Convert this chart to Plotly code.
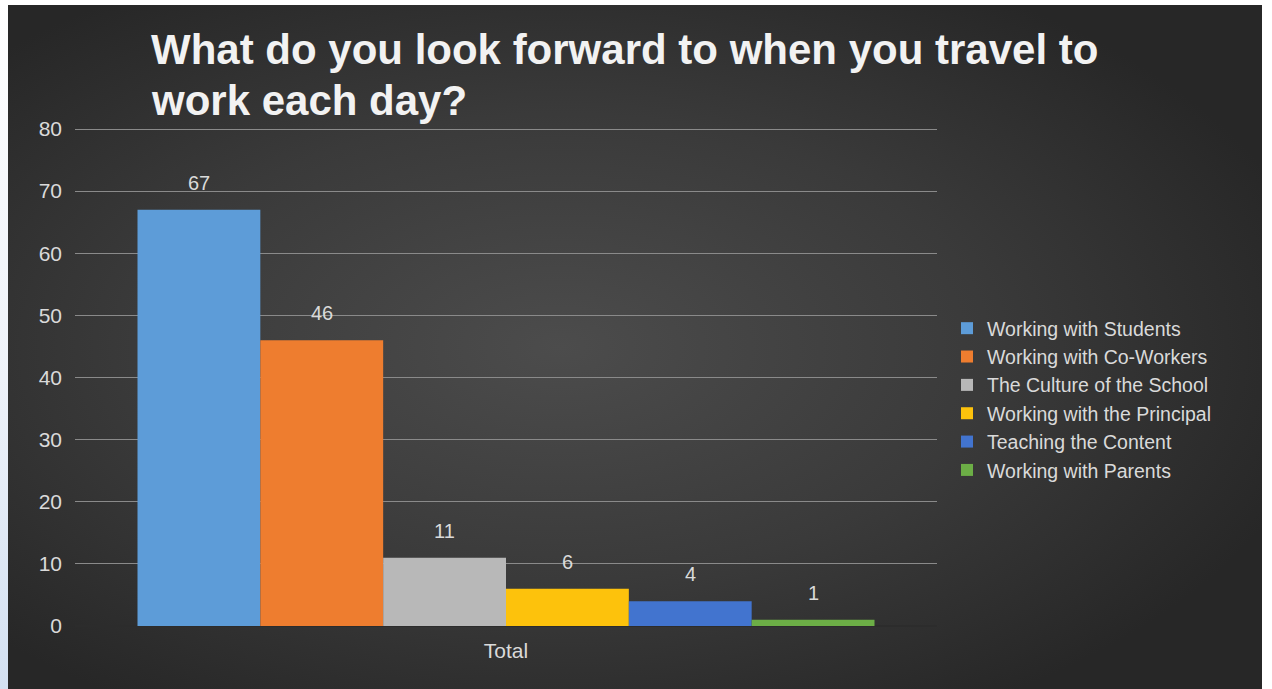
import base64
import plotly.graph_objects as go

# Survey responses
category = ["Total"]
answers = [
    "Working with Students",
    "Working with Co-Workers",
    "The Culture of the School",
    "Working with the Principal",
    "Teaching the Content",
    "Working with Parents",
]
counts = [67, 46, 11, 6, 4, 1]
bar_colors = ["#5d9cd8", "#ee7d2f", "#b8b8b8", "#fdc20c", "#4274cf", "#6cae46"]
y_ticks = [0, 10, 20, 30, 40, 50, 60, 70, 80]

title_lines = ["What do you look forward to when you travel to", "work each day?"]

W, H = 1272, 689
ML, MR, MT, MB = 75, 335, 127, 63
PW, PH = W - ML - MR, H - MT - MB
PX_PER_UNIT = 497 / 80          # vertical scale of the value axis
Y_TOP = PH / PX_PER_UNIT        # a little headroom so the 80 gridline is drawn
BARGAP = 0.145

FONT = "Arial, Liberation Sans, Helvetica, sans-serif"
TXT = "#dadada"

# Slide-style backdrop: dark radial gradient panel with a light frame strip
svg = f"""<svg xmlns='http://www.w3.org/2000/svg' width='{W}' height='{H}' viewBox='0 0 {W} {H}' preserveAspectRatio='none'>
<defs>
<radialGradient id='g' cx='0.44' cy='0.5' r='0.62'>
<stop offset='0' stop-color='#4c4c4c'/>
<stop offset='0.55' stop-color='#3a3a3a'/>
<stop offset='1' stop-color='#272727'/>
</radialGradient>
<linearGradient id='s' x1='0' y1='0' x2='0' y2='1'>
<stop offset='0' stop-color='#ffffff'/>
<stop offset='0.55' stop-color='#eef2f9'/>
<stop offset='1' stop-color='#d3e0f1'/>
</linearGradient>
</defs>
<rect width='{W}' height='{H}' fill='#ffffff'/>
<rect x='0' y='0' width='8' height='{H}' fill='url(#s)'/>
<rect x='8' y='5' width='1254' height='{H - 5}' fill='url(#g)'/>
</svg>"""
bg_uri = "data:image/svg+xml;base64," + base64.b64encode(svg.encode()).decode()

fig = go.Figure()
for name, val, col in zip(answers, counts, bar_colors):
    fig.add_trace(go.Bar(
        x=category, y=[val], name=name,
        marker=dict(color=col, line=dict(width=0)),
        hoverinfo="name+y",
    ))

# value labels above each bar of the group
n = len(counts)
group_w = 1 - BARGAP
annotations = []
for i, val in enumerate(counts):
    xc = -group_w / 2 + (i + 0.5) * group_w / n
    annotations.append(dict(
        x=xc, y=val, xref="x", yref="y", text=str(val), showarrow=False,
        yanchor="middle", yshift=27,
        font=dict(family=FONT, size=20, color=TXT),
    ))

# two-line title
for line, py in zip(title_lines, [50, 101]):
    annotations.append(dict(
        x=(149 - ML) / PW, y=(H - MB - py) / PH, xref="paper", yref="paper",
        text=f"<b>{line}</b>", showarrow=False, xanchor="left", yanchor="middle",
        font=dict(family=FONT, size=42, color="#f2f2f2"),
    ))

fig.update_layout(
    width=W, height=H, autosize=False,
    margin=dict(l=ML, r=MR, t=MT, b=MB),
    paper_bgcolor="#333333",
    plot_bgcolor="rgba(0,0,0,0)",
    barmode="group", bargap=BARGAP, bargroupgap=0,
    showlegend=True,
    legend=dict(
        x=1 + (947 - (W - MR)) / PW, y=(H - MB - 309) / PH,
        xanchor="left", yanchor="top",
        bgcolor="rgba(0,0,0,0)", borderwidth=0,
        font=dict(family=FONT, size=19.5, color=TXT),
        itemwidth=30, traceorder="normal",
    ),
    annotations=annotations,
    images=[dict(
        source=bg_uri, xref="paper", yref="paper",
        x=-ML / PW, y=1 + MT / PH, sizex=W / PW, sizey=H / PH,
        xanchor="left", yanchor="top", sizing="stretch", layer="below",
    )],
    xaxis=dict(
        showgrid=False, showline=False, zeroline=False, ticks="",
        tickfont=dict(family=FONT, size=21, color=TXT),
        ticklabelstandoff=10,
    ),
    yaxis=dict(
        range=[0, Y_TOP], tickvals=y_ticks,
        showgrid=True, gridcolor="#8a8a8a", gridwidth=1,
        zeroline=True, zerolinecolor="#2c2c2c", zerolinewidth=2,
        showline=False, ticks="",
        tickfont=dict(family=FONT, size=21, color=TXT),
        ticklabelstandoff=12,
    ),
)

fig.write_html("out.html")
